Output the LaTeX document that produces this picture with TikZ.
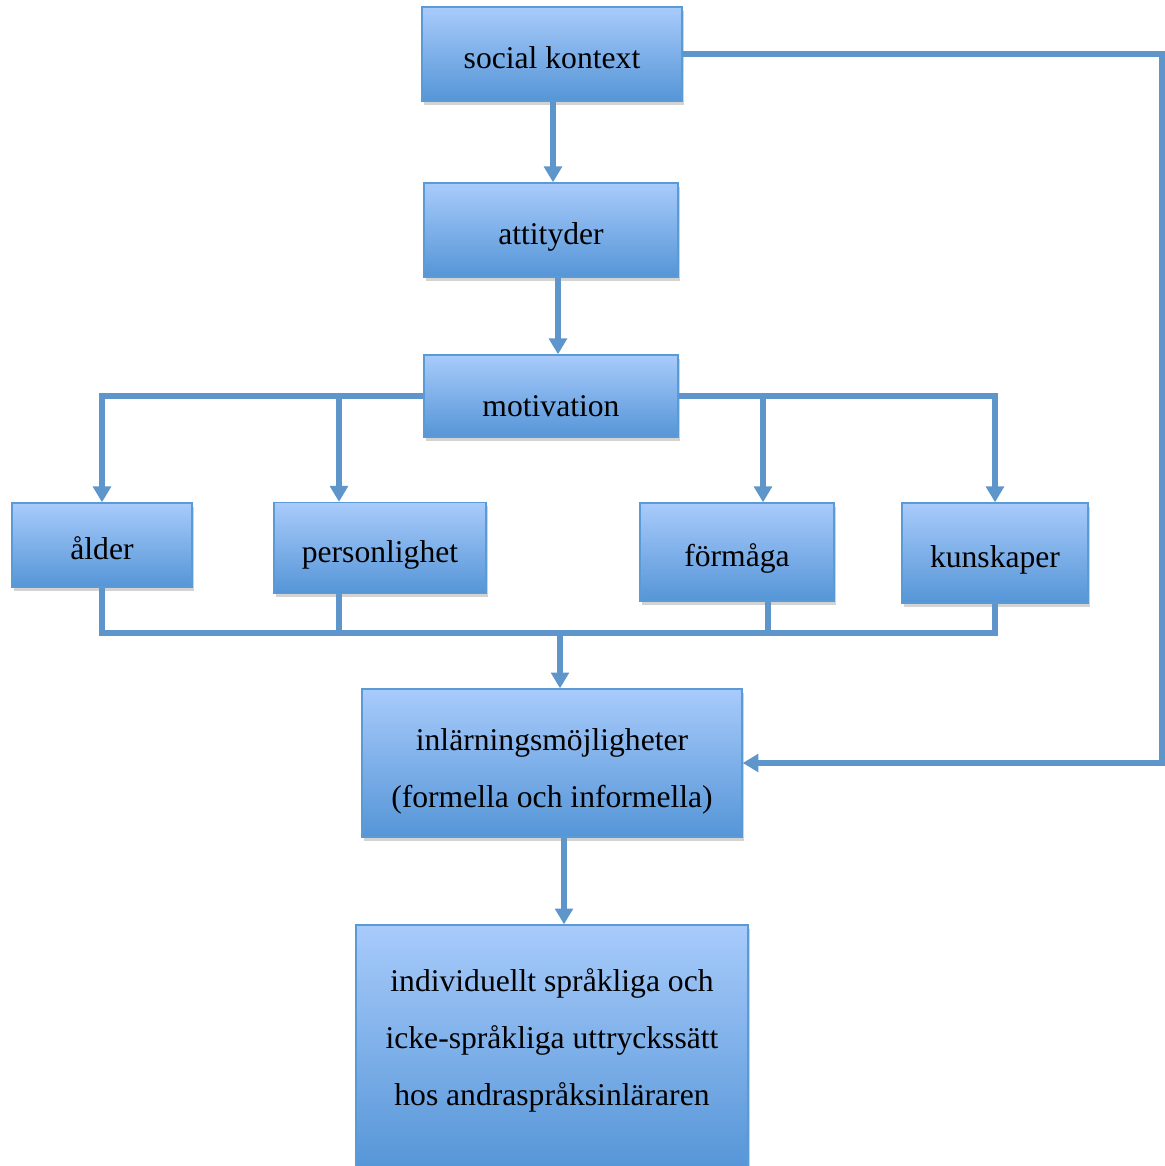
\documentclass[tikz,border=0pt]{standalone}
\usepackage{fontspec}
\setmainfont{Liberation Serif}
\usetikzlibrary{arrows.meta,shadows}
\definecolor{BoxTop}{HTML}{A8CBFB}
\definecolor{BoxBottom}{HTML}{5595D7}
\definecolor{BoxEdge}{HTML}{5B9BD5}
\definecolor{LinkBlue}{HTML}{5E96CC}

\tikzset{
  factor/.style={draw=BoxEdge, line width=0.8pt, top color=BoxTop,
    bottom color=BoxBottom, inner sep=0pt, align=center,
    drop shadow={opacity=0.35, shadow xshift=1pt, shadow yshift=-2pt},
    font=\fontsize{18}{32.5}\selectfont, text height=20pt, text depth=4pt},
  link/.style={LinkBlue, line width=3.2pt},
  arr/.style={link, -{Triangle[width=10pt, length=9pt]}},
}

\begin{document}
\begin{tikzpicture}[x=0.02cm, y=-0.02cm]
      \useasboundingbox (0,0) rectangle (1165,1166);
      % Boxes
      \node[factor, minimum width=5.2cm, minimum height=1.88cm] (social)
      at (552,54) {social kontext};
      \node[factor, minimum width=5.08cm, minimum height=1.88cm] (attityd)
      at (551,230) {attityder};
      \node[factor, minimum width=5.08cm, minimum height=1.64cm,
        text height=27pt] (motiv) at (551,396) {motivation};
      \node[factor, minimum width=3.6cm, minimum height=1.68cm] (alder)
      at (102,545) {ålder};
      \node[factor, minimum width=4.24cm, minimum height=1.82cm] (person)
      at (380,548) {personlighet};
      \node[factor, minimum width=3.88cm, minimum height=1.96cm] (formaga)
      at (737,552) {förmåga};
      \node[factor, minimum width=3.72cm, minimum height=2cm] (kunskap)
      at (995,553) {kunskaper};
      \node[factor, minimum width=7.6cm, minimum height=2.96cm,
        text height=55pt, text depth=] (inlarn)
      at (552,763) {inlärningsmöjligheter\\(formella och informella)};
      \node[factor, minimum width=7.84cm, minimum height=4.92cm,
        text height=69.5pt, text depth=] (uttryck)
      at (552,1048) {individuellt språkliga och\\icke-språkliga
        uttryckssätt\\hos andraspråksinläraren};
      % junctions
      \coordinate (jSoc) at (553,140);
      \coordinate (jAtt) at (558,300);
      \coordinate (jPers) at (339,393);
      \coordinate (jForm) at (763,393);
      \coordinate (jFormB) at (768,633);
      \coordinate (bus) at (560,633);
      \coordinate (jOut) at (564,880);
      \coordinate (loop) at (1162,54);
      % Chain down the middle
      \draw[arr] (social.south -| jSoc) -- (jSoc |- attityd.north);
      \draw[arr] (attityd.south -| jAtt) -- (jAtt |- motiv.north);
      \draw[arr] (inlarn.south -| jOut) -- (jOut |- uttryck.north);
      % motivation to the four factors
      \draw[arr] (motiv.west) -| (alder);
      \draw[arr] (jPers) -- (jPers |- person.north);
      \draw[arr] (motiv.east) -| (kunskap);
      \draw[arr] (jForm) -- (jForm |- formaga.north);
      % four factors together
      \draw[link] (alder) -- (alder |- bus) -- (kunskap |- bus) -- (kunskap);
      \draw[link] (person.south -| jPers) -- (jPers |- bus);
      \draw[link] (formaga.south -| jFormB) -- (jFormB);
      \draw[arr] (bus) -- (bus |- inlarn.north);
      % social context straight to the learning chances
      \draw[arr] (social.east) -| (loop |- inlarn.east) -- (inlarn.east);
\end{tikzpicture}
\end{document}
